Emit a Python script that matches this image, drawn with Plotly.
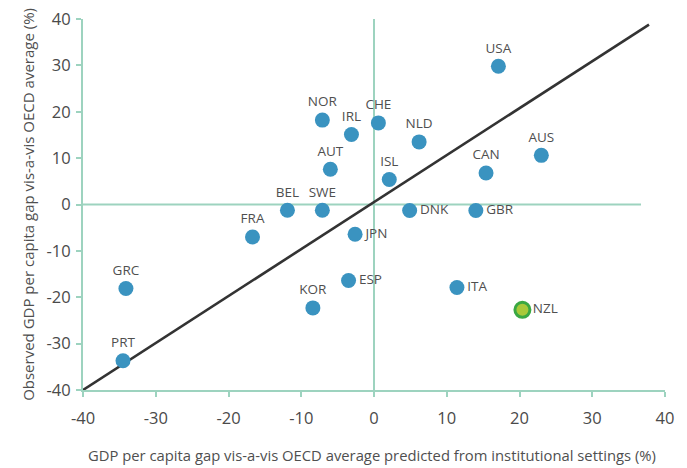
import plotly.graph_objects as go

countries = ["USA", "CHE", "IRL", "NLD", "AUS", "CAN", "ISL", "DNK", "GBR", "JPN",
             "NOR", "AUT", "BEL", "SWE", "FRA", "GRC", "PRT", "KOR", "ESP", "ITA"]
predicted = [17.1, 0.6, -3.1, 6.2, 23.0, 15.4, 2.1, 4.9, 14.0, -2.6,
             -7.1, -6.0, -11.9, -7.1, -16.7, -34.1, -34.5, -8.4, -3.5, 11.4]
observed = [29.8, 17.6, 15.1, 13.5, 10.6, 6.8, 5.4, -1.3, -1.3, -6.4,
            18.2, 7.6, -1.25, -1.25, -7.0, -18.1, -33.7, -22.3, -16.4, -17.9]
label_pos = ["top center"] * 7 + ["middle right"] * 3 + ["top center"] * 8 + ["middle right"] * 2

nzl_name = ["NZL"]
nzl_x = [20.4]
nzl_y = [-22.7]

fit_x = [-40, 37.8]
fit_y = [-40, 38.8]

ticks = [-40, -30, -20, -10, 0, 10, 20, 30, 40]

x_title = "GDP per capita gap vis-a-vis OECD average predicted from institutional settings (%)"
y_title = "Observed GDP per capita gap vis-a-vis OECD average (%)"

GREEN = "#9dd3bf"
FONT = "'Open Sans', 'Noto Sans', sans-serif"
TEXT = "#4f4f4f"

fig = go.Figure()

fig.add_trace(go.Scatter(x=[-40, 36.7], y=[0, 0], mode="lines",
                         line=dict(color=GREEN, width=2), hoverinfo="skip", showlegend=False))
fig.add_trace(go.Scatter(x=[0, 0], y=[-40, 40.5], mode="lines",
                         line=dict(color=GREEN, width=2), hoverinfo="skip", showlegend=False,
                         cliponaxis=False))

fig.add_trace(go.Scatter(x=fit_x, y=fit_y, mode="lines",
                         line=dict(color="#333333", width=2.6), showlegend=False, cliponaxis=False))

fig.add_trace(go.Scatter(
    x=predicted, y=observed, mode="markers+text", text=countries,
    textposition=label_pos, textfont=dict(family=FONT, size=13.5, color=TEXT),
    marker=dict(size=15, color="#3a93c0", line=dict(width=0)),
    showlegend=False, cliponaxis=False))

fig.add_trace(go.Scatter(
    x=nzl_x, y=nzl_y, mode="markers+text", text=nzl_name,
    textposition="middle right", textfont=dict(family=FONT, size=13.5, color=TEXT),
    marker=dict(size=15, color="#a8c93a", line=dict(width=3, color="#3aa843")),
    showlegend=False, cliponaxis=False))

axis_common = dict(
    range=[-40, 40], tickvals=ticks, ticktext=[str(t) for t in ticks],
    showgrid=False, zeroline=False, showline=True, linecolor=GREEN, linewidth=2,
    ticks="outside", ticklen=5, tickwidth=1.5, tickcolor=GREEN,
    tickfont=dict(family=FONT, size=16.5, color="#4a4a4a"),
    automargin=False, ticklabeloverflow="allow",
)

# page has an 8px body margin, so the figure is drawn 8px smaller and offset
fig.update_layout(
    width=679, height=460,
    margin=dict(l=75, r=22, t=11, b=78),
    paper_bgcolor="white", plot_bgcolor="white",
    xaxis=dict(**axis_common, ticklabelstandoff=7),
    yaxis=dict(**axis_common, ticklabelstandoff=2),
    annotations=[
        dict(text=x_title, xref="paper", yref="paper", x=0.497, y=-0.175,
             xanchor="center", yanchor="middle", showarrow=False,
             font=dict(family=FONT, size=14.8, color=TEXT)),
        dict(text=y_title, xref="paper", yref="paper", x=-0.0945, y=0.499,
             xanchor="center", yanchor="middle", showarrow=False, textangle=-90,
             font=dict(family=FONT, size=15, color=TEXT)),
    ],
    shapes=[
        dict(type="line", xref="paper", yref="paper", x0=-0.1357, x1=-0.1357, y0=-0.22, y1=1.06,
             line=dict(color=GREEN, width=2)),
        dict(type="line", xref="paper", yref="paper", x0=1.0326, x1=1.0326, y0=-0.22, y1=1.06,
             line=dict(color=GREEN, width=2)),
    ],
)

fig.write_html("out.html")
